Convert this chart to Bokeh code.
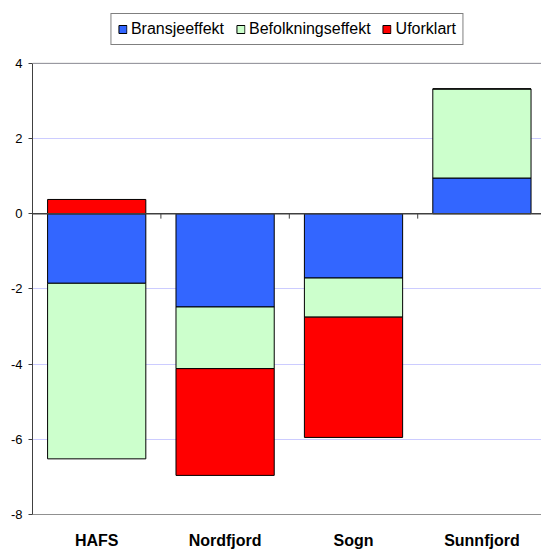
from bokeh.plotting import figure
from bokeh.models import Legend, LegendItem, Span, FixedTicker, Range1d, ColumnDataSource
from bokeh.embed import file_html
from bokeh.resources import INLINE

categories = ["HAFS", "Nordfjord", "Sogn", "Sunnfjord"]
series_names = ["Bransjeeffekt", "Befolkningseffekt", "Uforklart"]
bransje = [-1.85, -2.48, -1.71, 0.95]
befolkning = [-4.67, -1.64, -1.04, 2.37]
uforklart = [0.38, -2.84, -3.20, 0.0]
colors = ["#3366ff", "#ccffcc", "#ff0000"]
yticks = [-8, -6, -4, -2, 0, 2, 4]
ytick_labels = ["-8", "-6", "-4", "-2", "0", "2", "4"]

xpos = [i + 0.5 for i in range(len(categories))]
boundaries = [i for i in range(1, len(categories))]

FONT = "Liberation Sans"
Y_MIN, Y_MAX = -8, 4
Y_TOP = 5.672  # frame extends above the value axis to hold the legend

p = figure(width=541, height=551, output_backend="svg", toolbar_location=None,
           x_range=Range1d(0, 3.964), y_range=Range1d(Y_MIN, Y_TOP),
           min_border_left=32, min_border_right=0, min_border_top=0, min_border_bottom=36)
p.outline_line_color = None
p.background_fill_color = "white"
p.border_fill_color = "white"
p.xgrid.visible = False
p.ygrid.ticker = FixedTicker(ticks=yticks)
p.ygrid.grid_line_color = "#ccccff"
p.ygrid.grid_line_width = 1

# stacked bars with separate positive / negative stacks
pos_base = [0.0] * len(categories)
neg_base = [0.0] * len(categories)
renderers = []
for name, vals, col in zip(series_names, [bransje, befolkning, uforklart], colors):
    bottoms, tops = [], []
    for i, v in enumerate(vals):
        if v >= 0:
            bottoms.append(pos_base[i]); tops.append(pos_base[i] + v); pos_base[i] += v
        else:
            tops.append(neg_base[i]); bottoms.append(neg_base[i] + v); neg_base[i] += v
    src = ColumnDataSource(dict(x=xpos, top=tops, bottom=bottoms))
    r = p.vbar(x="x", top="top", bottom="bottom", width=0.765, source=src,
               fill_color=col, line_color="black", line_width=1)
    renderers.append((name, r))

# category axis line at zero with tick marks
p.add_layout(Span(location=0, dimension="width", line_color="#404040", line_width=1.5))
p.segment(x0=boundaries, y0=[0] * len(boundaries), x1=boundaries, y1=[-0.13] * len(boundaries),
          line_color="#404040", line_width=1)
p.add_layout(Span(location=Y_MAX, dimension="width", line_color="#909090", line_width=1))

# y axis
p.yaxis.bounds = (Y_MIN, Y_MAX)
p.yaxis.ticker = FixedTicker(ticks=yticks)
p.yaxis.major_label_overrides = {t: s for t, s in zip(yticks, ytick_labels)}
p.yaxis.major_label_text_font = FONT
p.yaxis.major_label_text_font_size = "13px"
p.yaxis.major_label_text_color = "black"
p.yaxis.major_tick_out = 4
p.yaxis.major_tick_in = 0
p.yaxis.minor_tick_line_color = None
p.yaxis.major_label_standoff = 6
p.yaxis.axis_line_color = "#404040"
p.yaxis.major_tick_line_color = "#404040"

# x axis
p.xaxis.ticker = FixedTicker(ticks=xpos)
p.xaxis.major_label_overrides = {x: c for x, c in zip(xpos, categories)}
p.xaxis.major_label_text_font = FONT
p.xaxis.major_label_text_font_size = "16px"
p.xaxis.major_label_text_font_style = "bold"
p.xaxis.major_label_text_color = "black"
p.xaxis.major_tick_out = 0
p.xaxis.major_tick_in = 0
p.xaxis.minor_tick_line_color = None
p.xaxis.major_label_standoff = 17
p.xaxis.axis_line_color = "#909090"

legend = Legend(items=[LegendItem(label=n, renderers=[r]) for n, r in renderers],
                orientation="horizontal", location="top_center",
                border_line_color="black", border_line_width=1,
                background_fill_color="white", background_fill_alpha=1,
                label_text_font=FONT, label_text_font_size="16px",
                label_text_color="black",
                glyph_width=10, glyph_height=10, label_standoff=4,
                spacing=11, padding=6, margin=13, label_height=16)
p.add_layout(legend, "center")

open("out.html", "w").write(file_html(p, INLINE))
